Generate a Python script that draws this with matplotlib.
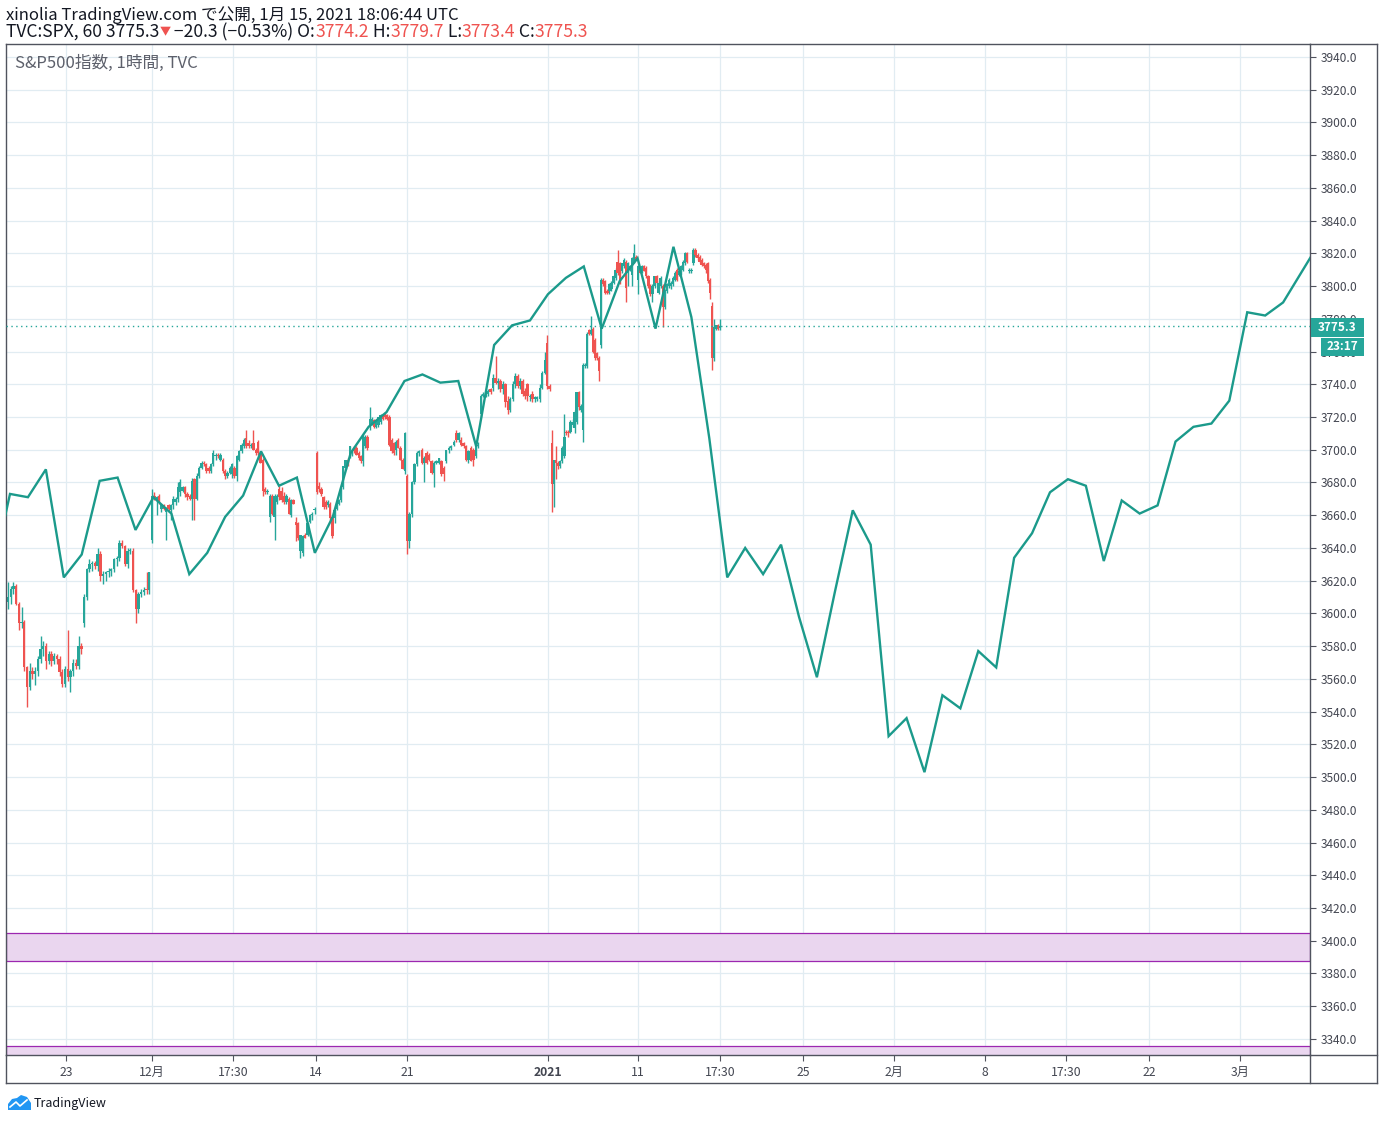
import numpy as np
import matplotlib
matplotlib.use('Agg')
import matplotlib.pyplot as plt
from matplotlib.patches import Rectangle, Polygon
from matplotlib.lines import Line2D

plt.rcParams['font.family'] = ['Noto Sans CJK JP', 'DejaVu Sans']

W, H = 1384, 1121

### data

# SPX 60 min candles, 20 Nov 2020 -> 15 Jan 2021
opens = [3607, 3610, 3615, 3617, 3606, 3594, 3595, 3567, 3555, 3565,
         3563, 3565, 3572, 3578, 3580, 3571, 3575, 3571, 3574, 3572,
         3564, 3557, 3566, 3561, 3565, 3570, 3568, 3580, 3594, 3610,
         3627, 3630, 3631, 3629, 3636, 3623, 3624, 3625, 3626, 3627,
         3633, 3634, 3643, 3641, 3630, 3638, 3638, 3614, 3603, 3612,
         3613, 3615, 3614, 3645, 3672, 3670, 3672, 3664, 3666, 3662,
         3666, 3663, 3666, 3668, 3670, 3674, 3675, 3677, 3673, 3672,
         3670, 3682, 3670, 3684, 3689, 3692, 3691, 3689, 3687, 3691,
         3696, 3697, 3694, 3694, 3687, 3684, 3686, 3685, 3689, 3684,
         3694, 3699, 3702, 3707, 3704, 3702, 3704, 3700, 3705, 3698,
         3694, 3676, 3674, 3659, 3672, 3659, 3668, 3676, 3675, 3672,
         3668, 3670, 3660, 3669, 3656, 3655, 3638, 3637, 3648, 3648,
         3656, 3660, 3663, 3698, 3678, 3676, 3671, 3668, 3666, 3667,
         3659, 3658, 3664, 3667, 3669, 3677, 3689, 3694, 3696, 3698,
         3701, 3701, 3698, 3696, 3693, 3702, 3708, 3714, 3716, 3718,
         3714, 3715, 3717, 3721, 3722, 3721, 3720, 3706, 3704, 3700,
         3706, 3701, 3694, 3687, 3684, 3644, 3661, 3680, 3691, 3698,
         3700, 3692, 3698, 3697, 3693, 3686, 3692, 3692, 3693, 3689,
         3693, 3700, 3701, 3703, 3710, 3706, 3706, 3704, 3702, 3694,
         3701, 3700, 3696, 3702, 3722, 3733, 3733, 3734, 3737, 3738,
         3744, 3741, 3742, 3737, 3740, 3730, 3724, 3731, 3740, 3745,
         3739, 3742, 3736, 3740, 3732, 3734, 3731, 3731, 3731, 3738,
         3747, 3765, 3739, 3704, 3679, 3694, 3692, 3690, 3693, 3696,
         3711, 3711, 3711, 3715, 3713, 3717, 3735, 3724, 3712, 3751,
         3751, 3773, 3771, 3774, 3767, 3759, 3756, 3764, 3804, 3803,
         3797, 3797, 3798, 3802, 3805, 3815, 3814, 3809, 3812, 3815,
         3808, 3810, 3807, 3815, 3818, 3804, 3811, 3809, 3812, 3811,
         3806, 3800, 3795, 3800, 3806, 3796, 3800, 3800, 3787, 3797,
         3800, 3800, 3801, 3804, 3810, 3807, 3808, 3810, 3814, 3820,
         3809, 3809, 3814, 3822, 3819, 3818, 3816, 3814, 3813, 3814,
         3804, 3788, 3756, 3774, 3776, 3774.2]
highs = [3619, 3617, 3619, 3618, 3607, 3604, 3596, 3568, 3570, 3567,
         3567, 3574, 3586, 3583, 3582, 3577, 3577, 3576, 3575, 3574,
         3566, 3568, 3590, 3566, 3572, 3572, 3586, 3582, 3612, 3628,
         3633, 3632, 3632, 3640, 3638, 3626, 3626, 3628, 3628, 3634,
         3635, 3645, 3645, 3642, 3640, 3640, 3640, 3615, 3613, 3615,
         3616, 3625, 3625, 3676, 3674, 3672, 3673, 3667, 3667, 3665,
         3667, 3667, 3672, 3671, 3680, 3682, 3678, 3678, 3674, 3673,
         3683, 3683, 3686, 3690, 3693, 3693, 3692, 3690, 3692, 3700,
         3698, 3698, 3698, 3695, 3688, 3687, 3690, 3692, 3690, 3697,
         3700, 3704, 3707, 3712, 3706, 3704, 3712, 3701, 3706, 3699,
         3695, 3677, 3676, 3673, 3673, 3673, 3673, 3678, 3677, 3674,
         3673, 3671, 3670, 3670, 3659, 3656, 3648, 3648, 3649, 3655,
         3661, 3662, 3665, 3699, 3680, 3677, 3672, 3669, 3669, 3668,
         3660, 3664, 3668, 3670, 3677, 3690, 3694, 3695, 3702, 3700,
         3702, 3702, 3699, 3697, 3709, 3709, 3709, 3726, 3720, 3719,
         3718, 3720, 3722, 3722, 3723, 3722, 3721, 3707, 3705, 3706,
         3707, 3702, 3695, 3711, 3685, 3662, 3681, 3692, 3699, 3700,
         3701, 3696, 3699, 3698, 3694, 3693, 3694, 3695, 3694, 3690,
         3700, 3702, 3703, 3706, 3712, 3711, 3708, 3705, 3703, 3700,
         3702, 3701, 3703, 3705, 3734, 3735, 3736, 3737, 3738, 3746,
         3757, 3744, 3743, 3742, 3741, 3733, 3732, 3742, 3747, 3746,
         3744, 3743, 3738, 3741, 3734, 3736, 3733, 3733, 3740, 3748,
         3760, 3770, 3740, 3712, 3694, 3702, 3693, 3694, 3702, 3722,
         3712, 3712, 3718, 3719, 3724, 3735, 3736, 3728, 3753, 3753,
         3772, 3774, 3782, 3775, 3768, 3760, 3757, 3805, 3805, 3804,
         3798, 3802, 3803, 3807, 3811, 3822, 3815, 3814, 3817, 3816,
         3815, 3813, 3818, 3826, 3819, 3813, 3812, 3813, 3813, 3812,
         3807, 3801, 3801, 3806, 3807, 3803, 3806, 3801, 3798, 3802,
         3805, 3803, 3806, 3809, 3811, 3810, 3813, 3816, 3821, 3821,
         3811, 3811, 3823, 3823, 3820, 3819, 3817, 3815, 3814, 3815,
         3805, 3790, 3780, 3776, 3777, 3779.7]
lows = [3603, 3606, 3612, 3605, 3590, 3591, 3565, 3543, 3553, 3560,
        3556, 3562, 3570, 3574, 3566, 3569, 3568, 3569, 3569, 3562,
        3555, 3555, 3559, 3552, 3562, 3566, 3566, 3575, 3592, 3608,
        3625, 3626, 3627, 3626, 3620, 3618, 3620, 3622, 3623, 3625,
        3629, 3632, 3640, 3629, 3628, 3636, 3613, 3594, 3600, 3610,
        3611, 3612, 3612, 3643, 3669, 3660, 3667, 3662, 3663, 3645,
        3662, 3657, 3664, 3666, 3668, 3672, 3674, 3671, 3669, 3669,
        3657, 3657, 3669, 3683, 3688, 3690, 3686, 3686, 3686, 3690,
        3694, 3695, 3693, 3686, 3682, 3683, 3685, 3683, 3683, 3681,
        3693, 3698, 3701, 3701, 3701, 3701, 3700, 3697, 3697, 3692,
        3672, 3673, 3673, 3656, 3660, 3645, 3667, 3669, 3668, 3667,
        3667, 3661, 3659, 3667, 3644, 3645, 3634, 3635, 3646, 3647,
        3655, 3657, 3661, 3673, 3674, 3672, 3664, 3664, 3665, 3657,
        3646, 3655, 3663, 3666, 3668, 3676, 3688, 3690, 3695, 3696,
        3698, 3697, 3694, 3692, 3690, 3701, 3700, 3712, 3715, 3713,
        3713, 3714, 3716, 3718, 3719, 3718, 3702, 3698, 3697, 3697,
        3701, 3694, 3688, 3685, 3636, 3640, 3659, 3679, 3690, 3696,
        3691, 3680, 3691, 3693, 3685, 3677, 3691, 3691, 3684, 3681,
        3692, 3698, 3700, 3702, 3705, 3705, 3702, 3701, 3693, 3692,
        3693, 3690, 3695, 3701, 3720, 3732, 3732, 3733, 3734, 3736,
        3740, 3737, 3735, 3734, 3726, 3722, 3723, 3730, 3738, 3738,
        3737, 3733, 3731, 3730, 3730, 3729, 3729, 3730, 3729, 3737,
        3746, 3737, 3736, 3662, 3665, 3682, 3688, 3689, 3692, 3695,
        3709, 3708, 3710, 3714, 3710, 3716, 3724, 3723, 3705, 3750,
        3750, 3770, 3770, 3759, 3755, 3755, 3742, 3762, 3800, 3795,
        3795, 3795, 3797, 3801, 3804, 3807, 3801, 3808, 3811, 3790,
        3800, 3809, 3800, 3814, 3816, 3795, 3808, 3808, 3809, 3805,
        3799, 3794, 3790, 3799, 3801, 3795, 3799, 3775, 3786, 3796,
        3799, 3798, 3800, 3803, 3803, 3806, 3807, 3809, 3813, 3814,
        3808, 3808, 3813, 3818, 3816, 3814, 3812, 3811, 3808, 3802,
        3792, 3749, 3754, 3773, 3773, 3773.4]
closes = [3610, 3615, 3617, 3606, 3594, 3595, 3567, 3555, 3565, 3563,
          3565, 3572, 3578, 3580, 3571, 3575, 3571, 3574, 3572, 3564,
          3557, 3566, 3561, 3565, 3570, 3568, 3580, 3578, 3610, 3627,
          3630, 3631, 3629, 3636, 3623, 3624, 3625, 3626, 3627, 3633,
          3634, 3643, 3641, 3630, 3638, 3639, 3614, 3603, 3612, 3613,
          3614, 3614, 3625, 3672, 3670, 3671, 3668, 3666, 3664, 3664,
          3664, 3666, 3670, 3670, 3677, 3680, 3677, 3673, 3671, 3670,
          3681, 3670, 3684, 3689, 3692, 3691, 3687, 3687, 3691, 3698,
          3697, 3696, 3697, 3687, 3684, 3686, 3689, 3691, 3684, 3696,
          3699, 3703, 3706, 3702, 3702, 3703, 3700, 3698, 3698, 3692,
          3675, 3674, 3675, 3672, 3661, 3672, 3672, 3671, 3669, 3668,
          3672, 3661, 3669, 3667, 3654, 3646, 3648, 3647, 3646, 3655,
          3660, 3661, 3664, 3674, 3676, 3673, 3665, 3665, 3668, 3658,
          3647, 3663, 3667, 3669, 3676, 3690, 3694, 3691, 3702, 3699,
          3699, 3697, 3695, 3693, 3708, 3708, 3701, 3719, 3719, 3714,
          3717, 3720, 3721, 3719, 3720, 3719, 3703, 3699, 3698, 3705,
          3701, 3694, 3688, 3710, 3644, 3661, 3680, 3691, 3698, 3699,
          3692, 3695, 3692, 3694, 3686, 3692, 3693, 3695, 3685, 3685,
          3700, 3701, 3702, 3705, 3706, 3710, 3703, 3702, 3694, 3699,
          3693, 3694, 3702, 3703, 3733, 3734, 3735, 3736, 3735, 3744,
          3741, 3742, 3737, 3740, 3729, 3724, 3731, 3740, 3745, 3739,
          3742, 3734, 3733, 3733, 3733, 3731, 3732, 3732, 3738, 3747,
          3755, 3739, 3737, 3679, 3694, 3692, 3690, 3693, 3701, 3708,
          3710, 3710, 3717, 3717, 3723, 3735, 3726, 3727, 3752, 3752,
          3771, 3771, 3773, 3760, 3756, 3756, 3748, 3804, 3801, 3796,
          3796, 3801, 3802, 3806, 3810, 3808, 3802, 3814, 3816, 3799,
          3814, 3812, 3817, 3820, 3816, 3812, 3808, 3812, 3809, 3806,
          3800, 3795, 3800, 3806, 3802, 3802, 3805, 3787, 3797, 3801,
          3804, 3802, 3805, 3808, 3804, 3809, 3812, 3815, 3820, 3815,
          3810, 3810, 3822, 3819, 3817, 3815, 3813, 3812, 3810, 3803,
          3796, 3756, 3775, 3776, 3774, 3775.3]

# bars where the time axis jumps (gaps between sessions) and their place in trading days
session_bar = [0, 28, 53, 123, 164, 223, 305]
session_day = [-0.11, 4.13, 7.92, 17.12, 22.14, 30.23, 39.6]

# overlay line, one point per trading day
line_day = list(range(-1, 74))
line_val = [3623, 3673, 3671, 3688, 3622, 3636, 3681, 3683, 3651, 3671,
            3661, 3624, 3637, 3659, 3672, 3699, 3678, 3683, 3637, 3659,
            3698, 3714, 3723, 3742, 3746, 3741, 3742, 3702, 3764, 3776,
            3779, 3795, 3805, 3812, 3774, 3803, 3817, 3774, 3824, 3781,
            3707, 3622, 3640, 3624, 3642, 3598, 3561, 3613, 3663, 3642,
            3525, 3536, 3503, 3550, 3542, 3577, 3567, 3634, 3649, 3674,
            3682, 3678, 3632, 3669, 3661, 3666, 3705, 3714, 3716, 3730,
            3784, 3782, 3790, 3808, 3826]

tick_day = [3.12, 7.92, 12.44, 17.07, 22.14, 30.0, 35.02, 39.6, 44.23, 49.3, 54.38, 58.9, 63.52, 68.6]
tick_lab = ['23', '12月', '17:30', '14', '21', '2021', '11', '17:30', '25', '2月', '8', '17:30', '22', '3月']

price_ticks = np.arange(3340, 3941, 20)
last_price = 3775.3
zone_hi = (3387.8, 3404.9)
zone_lo = (3320.0, 3335.7)

green = '#26a69a'
red = '#ef5350'
frame = '#50535e'
grid = '#e1ecf2'
label_col = '#434651'


def fx(x):
    return x / W


def fy(y):
    return 1 - y / H


### figure

fig = plt.figure(figsize=(W / 100, H / 100), dpi=100)
ax = fig.add_axes([fx(6), fy(1055), (1310 - 6) / W, (1055 - 44) / H])
ax.set_xlim(-0.223, 72.5)
ax.set_ylim(3330.2, 3947.9)

for sp in ax.spines.values():
    sp.set_color(frame)
    sp.set_linewidth(1)

ax.set_yticks(price_ticks)
ax.set_yticklabels(['%.1f' % v for v in price_ticks])
ax.yaxis.tick_right()
ax.set_xticks(tick_day)
ax.set_xticklabels(tick_lab)
ax.tick_params(axis='y', length=4, width=0.8, color=frame, labelsize=8.6, labelcolor=label_col, pad=4)
ax.tick_params(axis='x', length=4, width=0.8, color=frame, labelsize=8.8, labelcolor=label_col, pad=4)
ax.get_xticklabels()[5].set_fontweight('bold')
ax.grid(True, color=grid, lw=0.9)
ax.set_axisbelow(True)

# zones
ax.axhspan(zone_hi[0], zone_hi[1], facecolor='#ead6ef', edgecolor='#9c27b0', lw=0.9, zorder=1)
ax.axhspan(zone_lo[0], zone_lo[1], facecolor='#ead6ef', edgecolor='#9c27b0', lw=0.9, zorder=1)

# candles
o = np.array(opens, dtype=float)
hi = np.array(highs, dtype=float)
lo = np.array(lows, dtype=float)
c = np.array(closes, dtype=float)
xb = np.interp(np.arange(len(c)), session_bar, session_day)
cols = np.where(c >= o, green, red)
ax.vlines(xb, lo, hi, colors=cols, lw=1.0, zorder=2)
ax.bar(xb, np.maximum(np.abs(c - o), 0.8), bottom=np.minimum(o, c), width=0.13,
       color=cols, lw=0, zorder=2)

# overlay line
ax.plot(line_day, line_val, color='#1b9a8b', lw=1.7, zorder=3, solid_joinstyle='miter')

# last price line
ax.axhline(last_price, color=green, lw=1, ls=(0, (1, 2.5)), zorder=3)

# outer frame (price scale and time scale boxes)
for (x0, y0, x1, y1) in [(1310, 44, 1377, 44), (1377, 44, 1377, 1083), (6, 1083, 1377, 1083),
                         (6, 1055, 6, 1083), (1310, 1055, 1310, 1083), (1310, 1055, 1377, 1055)]:
    fig.add_artist(Line2D([fx(x0), fx(x1)], [fy(y0), fy(y1)], color=frame, lw=1))

# price labels on the scale
fig.add_artist(Rectangle((fx(1311), fy(337)), 53 / W, 19 / H, facecolor=green, edgecolor='none', zorder=10))
fig.text(fx(1337.5), fy(327.5), '%.1f' % last_price, color='white', fontsize=8.5, fontweight='bold',
         ha='center', va='center', zorder=11)
fig.add_artist(Rectangle((fx(1321), fy(356)), 43 / W, 18 / H, facecolor=green, edgecolor='none', zorder=10))
fig.text(fx(1342.5), fy(347), '23:17', color='white', fontsize=8.5, fontweight='bold',
         ha='center', va='center', zorder=11)

# header
fig.text(fx(6), fy(15), 'xinolia TradingView.com で公開, 1月 15, 2021 18:06:44 UTC',
         fontsize=12, color='#131722', va='center', ha='left')

rend = fig.canvas.get_renderer()
parts = [('TVC:SPX, 60 3775.3', '#131722'), ('▼', red), (' −20.3 (−0.53%) O:', '#131722'),
         ('3774.2', red), (' H:', '#131722'), ('3779.7', red), (' L:', '#131722'),
         ('3773.4', red), (' C:', '#131722'), ('3775.3', red)]
xpos = 6
for s, col in parts:
    size = 8 if s == '▼' else 12.6
    t = fig.text(fx(xpos), fy(32), s, fontsize=size, color=col, va='center', ha='left')
    xpos += t.get_window_extent(renderer=rend).width

fig.text(fx(15), fy(63), 'S&P500指数, 1時間, TVC', fontsize=12, color='#5d606b', va='center', ha='left')

# TradingView logo
fig.add_artist(Polygon([(fx(8), fy(1110)), (fx(8), fy(1104)), (fx(12), fy(1099)), (fx(17), fy(1098)),
                        (fx(21), fy(1095)), (fx(27), fy(1097)), (fx(31), fy(1103)), (fx(31), fy(1110))],
                       closed=True, facecolor='#2196f3', edgecolor='none'))
fig.add_artist(Line2D([fx(10), fx(16), fx(20), fx(27)], [fy(1107), fy(1102), fy(1106), fy(1100)],
                      color='white', lw=1.2))
fig.text(fx(34), fy(1103), 'TradingView', fontsize=9, color='#131722', va='center', ha='left')

fig.savefig('out.png', dpi=100)
